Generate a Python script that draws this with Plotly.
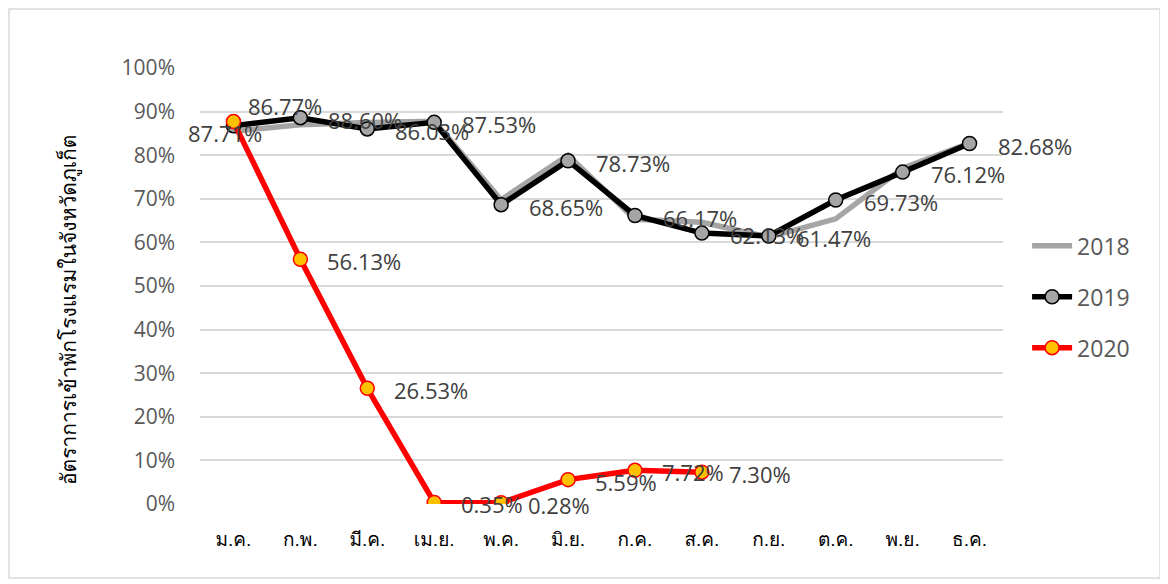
import plotly.graph_objects as go

months = ["ม.ค.", "ก.พ.", "มี.ค.", "เม.ย.", "พ.ค.", "มิ.ย.", "ก.ค.", "ส.ค.", "ก.ย.", "ต.ค.", "พ.ย.", "ธ.ค."]
y2018 = [85.5, 87.0, 87.5, 87.8, 69.8, 80.0, 65.3, 64.6, 61.2, 65.4, 77.0, 82.8]
y2019 = [86.77, 88.60, 86.03, 87.53, 68.65, 78.73, 66.17, 62.13, 61.47, 69.73, 76.12, 82.68]
y2020 = [87.71, 56.13, 26.53, 0.35, 0.28, 5.59, 7.72, 7.30]

y_ticks = list(range(0, 101, 10))
y_ticktext = [f"{v}%" for v in y_ticks]
y_title = "อัตราการเข้าพักโรงแรมในจังหวัดภูเก็ต"

FONT = "Open Sans, Noto Sans Thai, Tahoma, sans-serif"
THAI = "Tahoma, Loma, Garuda, Noto Sans Thai, sans-serif"
LBL = dict(size=22, color="#404040", family=FONT)

W, H = 1160, 576
ML, MR, MT, MB = 192, 165, 60, 80
PW, PH = W - ML - MR, H - MT - MB

fig = go.Figure()
fig.add_trace(go.Scatter(x=months, y=y2018, name="2018", mode="lines",
                         line=dict(color="#A5A5A5", width=5.5), legendgroup="a"))
fig.add_trace(go.Scatter(x=months, y=y2019, name="2019", mode="lines+markers",
                         line=dict(color="#000000", width=5.5),
                         marker=dict(size=14, color="#A5A5A5", line=dict(color="#000000", width=1.5)),
                         legendgroup="b"))
fig.add_trace(go.Scatter(x=months[:len(y2020)], y=y2020, name="2020", mode="lines+markers",
                         line=dict(color="#FF0000", width=5.5),
                         marker=dict(size=14, color="#FFC000", line=dict(color="#FF0000", width=1.5)),
                         legendgroup="c"))

annotations = []
for i, (m, v) in enumerate(zip(months, y2019)):
    xs, ys = (13, 20) if i == 0 else (26, -2)
    annotations.append(dict(x=m, y=v, text=f"{v:.2f}%", showarrow=False, xanchor="left",
                            yanchor="middle", xshift=xs, yshift=ys, font=LBL))
for i, (m, v) in enumerate(zip(months, y2020)):
    xs, ys = (-47, -11) if i == 0 else (25, -2)
    annotations.append(dict(x=m, y=v, text=f"{v:.2f}%", showarrow=False, xanchor="left",
                            yanchor="middle", xshift=xs, yshift=ys, font=LBL))
# y-axis title
annotations.append(dict(xref="paper", yref="paper", x=(60 - ML) / PW, y=(H - MB - 302) / PH,
                        text=y_title, textangle=-90, showarrow=False,
                        xanchor="center", yanchor="middle",
                        font=dict(size=21, color="#000000", family=THAI)))

fig.update_layout(
    width=W, height=H,
    margin=dict(l=ML, r=MR, t=MT, b=MB),
    paper_bgcolor="white", plot_bgcolor="white",
    font=dict(family=FONT, color="#595959"),
    showlegend=True,
    legend=dict(x=1.03, y=0.475, xanchor="left", yanchor="middle",
                font=dict(size=23, color="#595959", family=FONT),
                tracegroupgap=18, itemwidth=40),
    annotations=annotations,
    shapes=[dict(type="rect", xref="paper", yref="paper",
                 x0=(1 - ML) / PW, x1=(1152 - ML) / PW,
                 y0=(H - MB - 570) / PH, y1=(H - MB - 1) / PH,
                 line=dict(color="#D9D9D9", width=1.5), fillcolor="rgba(0,0,0,0)", layer="below")],
)
fig.update_xaxes(type="category", showgrid=False, showline=False, zeroline=False,
                 tickfont=dict(size=19, color="#000000", family=THAI),
                 ticks="", ticklabelstandoff=22, range=[-0.5, 11.5])
fig.update_yaxes(range=[0, 100], tickmode="array", tickvals=y_ticks, ticktext=y_ticktext,
                 showgrid=True, gridcolor="#D9D9D9", gridwidth=2, zeroline=False,
                 tickfont=dict(size=21, color="#595959", family=FONT),
                 ticklabelstandoff=24)

fig.write_html("out.html")
